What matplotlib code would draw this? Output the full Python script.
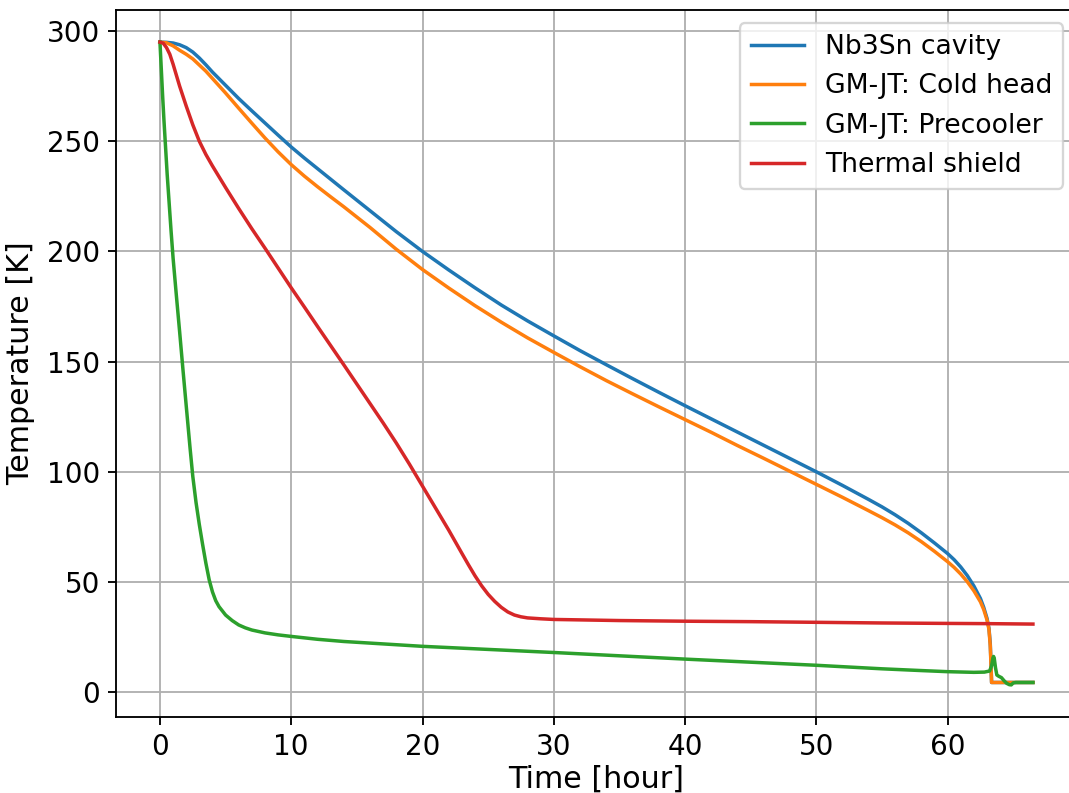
import matplotlib
matplotlib.use("Agg")
import matplotlib.pyplot as plt

# Nb3Sn cavity
t_cav = [0, 0.5, 1, 1.5, 2, 2.5, 3, 3.5, 4, 5, 6, 7, 8, 9, 10, 11, 12, 13, 14, 16, 18, 20,
         22, 24, 26, 28, 30, 32, 34, 36, 38, 40, 42, 44, 46, 48, 50, 52, 54, 55, 56, 57, 58,
         59, 60, 60.5, 61, 61.5, 62, 62.5, 62.75, 63, 63.15, 63.25, 63.3, 63.35, 64, 65, 66.5]
T_cav = [295, 294.9, 294.6, 293.8, 292.5, 290.5, 287.8, 284.7, 281.4, 275.4, 269.4, 263.8,
         258.3, 252.8, 247.4, 242.4, 237.6, 232.8, 228.0, 218.5, 209.0, 200.0, 191.6, 183.5,
         175.7, 168.5, 161.7, 155.0, 148.6, 142.3, 136.1, 130.0, 124.0, 118.0, 112.0, 106.0,
         100.0, 93.8, 87.4, 84.1, 80.5, 76.6, 72.3, 67.7, 62.9, 60.1, 56.8, 52.9, 48.2, 42.5,
         38.5, 33.5, 29.0, 22.0, 14.0, 4.4, 4.4, 4.4, 4.4]

# GM-JT: Cold head
t_ch = [0, 0.5, 1, 1.5, 2, 2.5, 3, 3.5, 4, 5, 6, 7, 8, 9, 10, 11, 12, 13, 14, 16, 18, 20,
        22, 24, 26, 28, 30, 32, 34, 36, 38, 40, 42, 44, 46, 48, 50, 52, 54, 55, 56, 57, 58,
        59, 60, 60.5, 61, 61.5, 62, 62.5, 62.75, 63, 63.15, 63.25, 63.3, 63.35, 64, 65, 66.5]
T_ch = [295, 294.7, 293.3, 291.3, 289.5, 287.4, 284.6, 281.8, 278.5, 271.9, 265.0, 258.2,
        251.5, 245.2, 239.4, 234.2, 229.4, 224.8, 220.3, 210.9, 201.0, 191.8, 183.4, 175.4,
        167.9, 160.8, 154.2, 147.7, 141.4, 135.4, 129.5, 123.7, 117.9, 111.9, 106.1, 100.2,
        94.3, 88.4, 82.3, 79.2, 75.9, 72.3, 68.3, 63.9, 59.2, 56.6, 53.6, 50.1, 46.0, 41.0,
        37.5, 32.8, 28.5, 21.0, 13.0, 4.4, 4.4, 4.4, 4.4]

# GM-JT: Precooler
t_pc = [0, 0.1, 0.2, 0.3, 0.4, 0.55, 0.7, 0.85, 1, 1.25, 1.5, 1.75, 2, 2.29, 2.5, 2.75, 3,
        3.25, 3.5, 3.75, 4, 4.25, 4.5, 5, 5.5, 6, 6.5, 7, 8, 9, 10, 12, 14, 17, 20, 25, 30,
        35, 40, 45, 50, 55, 58, 60, 62, 62.8, 63.2, 63.35, 63.45, 63.5, 63.55, 63.65, 63.75,
        63.9, 64.1, 64.3, 64.5, 64.7, 64.85, 65, 65.2, 66.5]
T_pc = [295, 283, 271, 260, 250, 235, 222, 209, 197, 180, 163.5, 146.5, 130, 111, 98, 86,
        76, 67, 58.5, 51, 45.5, 41.5, 38.8, 35, 32.5, 30.5, 29.2, 28.2, 26.9, 26.0, 25.3,
        24.0, 23.0, 21.9, 20.8, 19.4, 18.0, 16.5, 15.0, 13.6, 12.2, 10.6, 9.8, 9.3, 9.0, 9.1,
        9.6, 12.0, 15.5, 16.2, 15.5, 11.0, 7.8, 7.2, 6.6, 5.2, 4.0, 3.4, 3.3, 4.2, 4.4, 4.4]

# Thermal shield
t_ts = [0, 0.25, 0.5, 0.75, 1, 1.25, 1.5, 2, 2.5, 3, 3.5, 4, 5, 6, 7, 8, 9, 10, 11, 12, 13,
        14, 15, 16, 17, 18, 19, 20, 21, 22, 23, 23.5, 24, 24.5, 25, 25.5, 26, 26.5, 27, 27.5,
        28, 29, 30, 32, 35, 40, 45, 50, 55, 60, 63, 66.5]
T_ts = [295, 294.5, 292.5, 289.5, 285, 280, 275, 266, 257.5, 250, 244, 238.8, 229, 219.5,
        210.3, 201.5, 192.5, 183.5, 174.8, 166, 157.3, 148.6, 139.8, 131, 122.2, 113.1, 103.5,
        93.5, 83.5, 73.5, 63, 57.8, 52.8, 48.3, 44.4, 41.2, 38.5, 36.4, 35, 34.2, 33.7, 33.3,
        33, 32.8, 32.5, 32.2, 32, 31.7, 31.4, 31.2, 31.1, 30.9]

labels = ["Nb3Sn cavity", "GM-JT: Cold head", "GM-JT: Precooler", "Thermal shield"]

fig = plt.figure(figsize=(1069 / 167, 793 / 167), dpi=167)
# the right spine lies just beyond the picture's right edge, as in the reference
ax = fig.add_axes([0.1088, 0.0958, 0.8983, 0.8916])
ax.plot(t_cav, T_cav, label=labels[0])
ax.plot(t_ch, T_ch, label=labels[1])
ax.plot(t_pc, T_pc, label=labels[2])
ax.plot(t_ts, T_ts, label=labels[3])
ax.set_xlabel("Time [hour]", fontsize=13, labelpad=1.5)
ax.set_ylabel("Temperature [K]", fontsize=13, labelpad=5)
ax.tick_params(labelsize=12)
ax.grid(True)
ax.legend(loc="upper right", fontsize=11.5)
fig.savefig("out.png", dpi=167)
